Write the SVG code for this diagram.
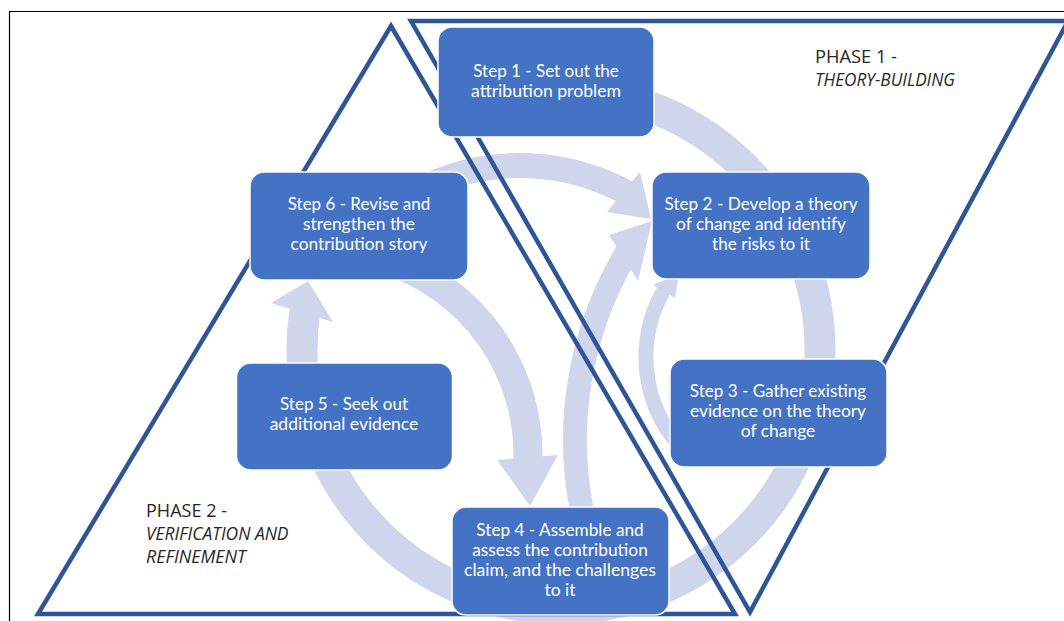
<svg xmlns="http://www.w3.org/2000/svg" width="1064" height="621" viewBox="0 0 1064 621">
<style>
.band{fill:none;stroke:#CFD5EA;stroke-linecap:butt}
.head{fill:#CFD5EA}
.tri{fill:none;stroke:#2F5597;stroke-width:4.5;stroke-linejoin:miter}
.box{fill:#4472C4;stroke:#FFFFFF;stroke-width:1.5}
.lbl{font-family:Lato,"Liberation Sans",sans-serif;font-size:16.5px;fill:#FFFFFF;text-anchor:middle}
.ph{font-family:"Open Sans","Liberation Sans",sans-serif;font-size:18px;fill:#262626}
.it{font-style:italic}
</style>
<rect width="1064" height="621" fill="#FFFFFF"/>
<path id="frame" d="M9.5,621 V11.5 H1064" fill="none" stroke="#000000" stroke-width="1.2"/>

<g id="connectors">
 <path class="band" stroke-width="31" d="M547.44,91.35 A259,259 0 1 1 305.19,309.48"/>
 <polygon class="head" points="271,303 308,281 333,322"/>
 <path class="band" stroke-width="29" d="M386.35,260.03 A205,205 0 0 1 527.87,462.15"/>
 <polygon class="head" points="497,460 558,455 530,506"/>
 <path class="band" stroke-width="25" d="M425.54,186.44 A223.5,223.5 0 0 1 631.75,195.44"/>
 <polygon class="head" points="640,172 651,219 607,212"/>
 <path class="band" stroke-width="24" d="M582.98,515.89 A365,365 0 0 1 627.13,252.01"/>
 <polygon class="head" points="609,235 652,221 638,281"/>
 <path class="band" stroke-width="15" d="M680.42,446.66 A134,134 0 0 1 665.14,287.99"/>
 <polygon class="head" points="653,285 679,274 675,298"/>
</g>

<g id="phase1">
 <polygon class="tri" points="411,21 1068,21 750,612"/>
 <text class="ph" x="815" y="63" textLength="82" lengthAdjust="spacingAndGlyphs">PHASE 1 -</text>
 <text class="ph it" x="815" y="86" textLength="140" lengthAdjust="spacingAndGlyphs">THEORY-BUILDING</text>
</g>

<g id="phase2">
 <polygon class="tri" points="391,26 735,614 38,614"/>
 <text class="ph" x="146" y="517" textLength="81" lengthAdjust="spacingAndGlyphs">PHASE 2 -</text>
 <text class="ph it" x="146" y="540" textLength="142.5" lengthAdjust="spacingAndGlyphs">VERIFICATION AND</text>
 <text class="ph it" x="146" y="563" textLength="100" lengthAdjust="spacingAndGlyphs">REFINEMENT</text>
</g>

<g id="step1">
 <rect class="box" x="438" y="27" width="216" height="110" rx="14"/>
 <text class="lbl" x="546" y="77" textLength="145.5" lengthAdjust="spacingAndGlyphs">Step 1 - Set out the</text>
 <text class="lbl" x="546" y="97" textLength="150" lengthAdjust="spacingAndGlyphs">attribution problem</text>
</g>

<g id="step2">
 <rect class="box" x="652" y="172" width="218" height="107" rx="14"/>
 <text class="lbl" x="761" y="209.5" textLength="193" lengthAdjust="spacingAndGlyphs">Step 2 - Develop a theory</text>
 <text class="lbl" x="761" y="229.5" textLength="170" lengthAdjust="spacingAndGlyphs">of change and identify</text>
 <text class="lbl" x="761" y="249.5" textLength="98" lengthAdjust="spacingAndGlyphs">the risks to it</text>
</g>

<g id="step3">
 <rect class="box" x="670" y="359" width="217" height="108" rx="14"/>
 <text class="lbl" x="778" y="397" textLength="176.4" lengthAdjust="spacingAndGlyphs">Step 3 - Gather existing</text>
 <text class="lbl" x="778" y="417" textLength="176" lengthAdjust="spacingAndGlyphs">evidence on the theory</text>
 <text class="lbl" x="778" y="437" textLength="74.6" lengthAdjust="spacingAndGlyphs">of change</text>
</g>

<g id="step4">
 <rect class="box" x="452" y="507" width="217" height="108" rx="14"/>
 <text class="lbl" x="560" y="535.5" textLength="167.3" lengthAdjust="spacingAndGlyphs">Step 4 - Assemble and</text>
 <text class="lbl" x="560" y="555.5" textLength="175.7" lengthAdjust="spacingAndGlyphs">assess the contribution</text>
 <text class="lbl" x="560" y="575.5" textLength="192" lengthAdjust="spacingAndGlyphs">claim, and the challenges</text>
 <text class="lbl" x="560" y="595.5" textLength="31.2" lengthAdjust="spacingAndGlyphs">to it</text>
</g>

<g id="step5">
 <rect class="box" x="236.5" y="363" width="216" height="107" rx="14"/>
 <text class="lbl" x="344" y="410" textLength="128" lengthAdjust="spacingAndGlyphs">Step 5 - Seek out</text>
 <text class="lbl" x="344" y="430" textLength="148.6" lengthAdjust="spacingAndGlyphs">additional evidence</text>
</g>

<g id="step6">
 <rect class="box" x="250" y="172" width="218" height="108" rx="14"/>
 <text class="lbl" x="359" y="210" textLength="142.5" lengthAdjust="spacingAndGlyphs">Step 6 - Revise and</text>
 <text class="lbl" x="359" y="230" textLength="112" lengthAdjust="spacingAndGlyphs">strengthen the</text>
 <text class="lbl" x="359" y="250" textLength="137" lengthAdjust="spacingAndGlyphs">contribution story</text>
</g>
</svg>
